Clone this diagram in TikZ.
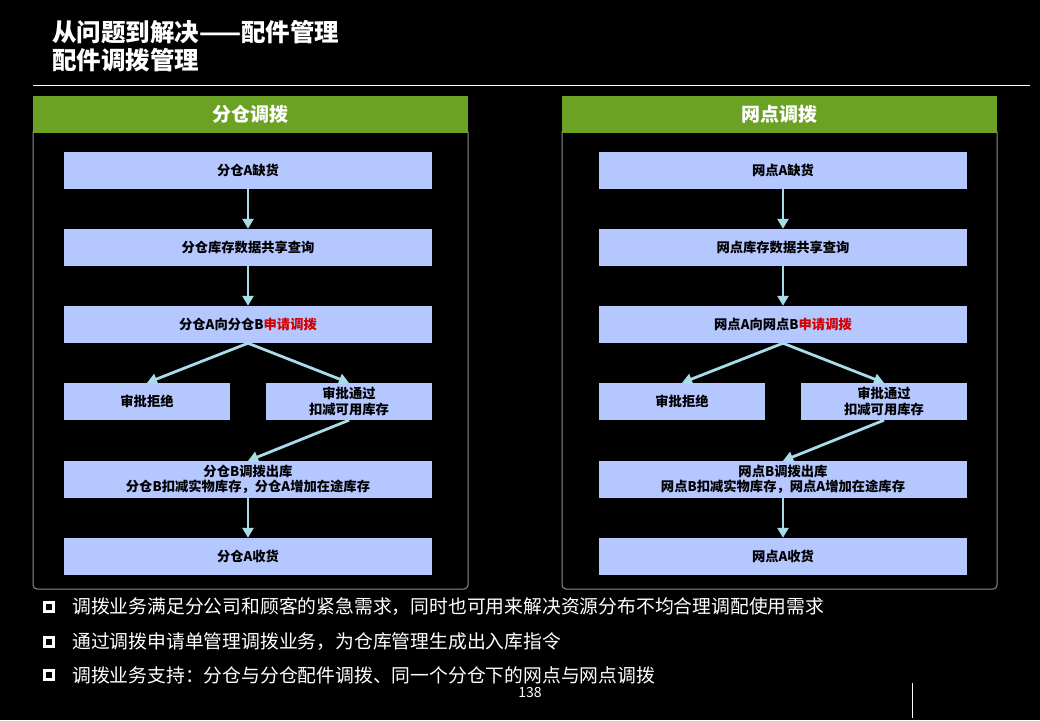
\documentclass[tikz,border=0pt]{standalone}
\usepackage{fontspec}
\setmainfont{Noto Sans CJK SC}
\usetikzlibrary{arrows.meta}
\definecolor{boxc}{RGB}{180,199,255}
\definecolor{hdrgreen}{RGB}{107,162,35}
\definecolor{arrc}{RGB}{168,220,232}
\definecolor{redt}{RGB}{210,0,0}
\definecolor{panelb}{RGB}{140,140,140}
\begin{document}
\begin{tikzpicture}[x=1pt,y=-1pt,
  flow/.style={fill=boxc, inner sep=0pt, align=center, text=black,
    font=\bfseries\fontsize{13.3}{15.5}\selectfont, minimum height=37pt},
  wide/.style={flow, minimum width=368pt},
  half/.style={flow, minimum width=166pt},
  hdr/.style={fill=hdrgreen, text=white, minimum width=435pt, minimum height=37pt,
    inner sep=0pt, font=\bfseries\fontsize{19}{21}\selectfont},
  panel/.style={draw=panelb, line width=1pt, rounded corners=4pt},
  arr/.style={draw=arrc, line width=2.8pt, -{Triangle[width=11pt,length=10pt]}},
  bullet/.style={text=white, anchor=west, inner sep=0pt, font=\fontsize{18.8}{20}\selectfont},
  bsq/.style={draw=white, line width=2.2pt, minimum size=9pt, inner sep=0pt}]
\fill[black] (0,0) rectangle (1040,720);
\useasboundingbox (0,0) rectangle (1040,720);

% title
\node[anchor=west, text=white, inner sep=0pt, font=\bfseries\fontsize{24.5}{26}\selectfont] (t1) at (52,32) {从问题到解决——配件管理};
\node[anchor=west, text=white, inner sep=0pt, font=\bfseries\fontsize{24.5}{26}\selectfont] (t2) at (52,60) {配件调拨管理};
\draw[white, line width=1pt] (33,85.5) -- (1030,85.5);

% panels
\draw[panel] (33,128) rectangle (468,589);
\node[hdr] (h1) at (250.5,114.5) {分仓调拨};
\draw[panel] (562,128) rectangle (997,589);
\node[hdr] (h2) at (779.5,114.5) {网点调拨};

% left flow
\node[wide] (a1) at (248,170.5) {分仓A缺货};
\node[wide] (a2) at (248,247.5) {分仓库存数据共享查询};
\node[wide] (a3) at (248,324.5) {分仓A向分仓B\textcolor{redt}{申请调拨}};
\node[half] (a4) at (147,401.5) {审批拒绝};
\node[half] (a5) at (349,401.5) {审批通过\\扣减可用库存};
\node[wide] (a6) at (248,479.5) {分仓B调拨出库\\分仓B扣减实物库存，分仓A增加在途库存};
\node[wide] (a7) at (248,556.5) {分仓A收货};
\draw[arr] (a1.south) -- (a2.north);
\draw[arr] (a2.south) -- (a3.north);
\draw[arr] (a3.south) -- (a4.north);
\draw[arr] (a3.south) -- (a5.north);
\draw[arr] (a5.south) -- (a6.north);
\draw[arr] (a6.south) -- (a7.north);

% right flow
\node[wide] (b1) at (783,170.5) {网点A缺货};
\node[wide] (b2) at (783,247.5) {网点库存数据共享查询};
\node[wide] (b3) at (783,324.5) {网点A向网点B\textcolor{redt}{申请调拨}};
\node[half] (b4) at (682,401.5) {审批拒绝};
\node[half] (b5) at (884,401.5) {审批通过\\扣减可用库存};
\node[wide] (b6) at (783,479.5) {网点B调拨出库\\网点B扣减实物库存，网点A增加在途库存};
\node[wide] (b7) at (783,556.5) {网点A收货};
\draw[arr] (b1.south) -- (b2.north);
\draw[arr] (b2.south) -- (b3.north);
\draw[arr] (b3.south) -- (b4.north);
\draw[arr] (b3.south) -- (b5.north);
\draw[arr] (b5.south) -- (b6.north);
\draw[arr] (b6.south) -- (b7.north);

% bullets
\node[bsq] (q1) at (49,607) {};
\node[bullet] (l1) at (72,607) {调拨业务满足分公司和顾客的紧急需求，同时也可用来解决资源分布不均合理调配使用需求};
\node[bsq] (q2) at (49,642) {};
\node[bullet] (l2) at (72,642) {通过调拨申请单管理调拨业务，为仓库管理生成出入库指令};
\node[bsq] (q3) at (49,675) {};
\node[bullet] (l3) at (72,675) {调拨业务支持：分仓与分仓配件调拨、同一个分仓下的网点与网点调拨};

\node[text=white, inner sep=0pt, font=\fontsize{14}{16}\selectfont] (pg) at (530,692) {138};
\draw[white, line width=0.8pt] (912,683) -- (912,718);
\end{tikzpicture}
\end{document}
